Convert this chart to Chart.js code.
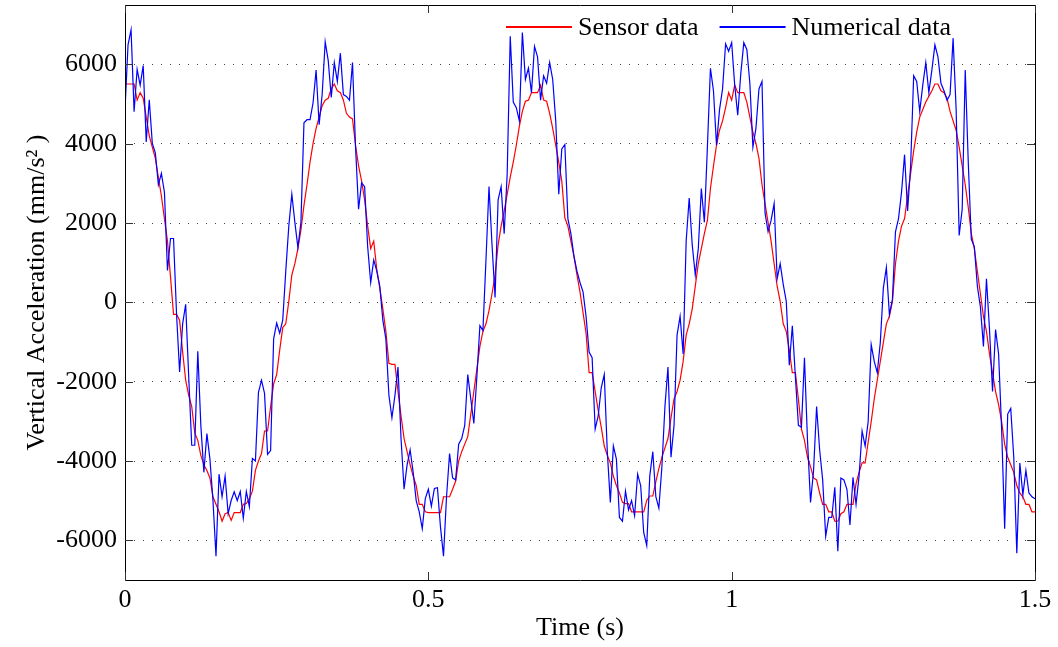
<!DOCTYPE html>
<html>
<head>
<meta charset="utf-8">
<title>Vertical Acceleration</title>
<script src="https://cdn.jsdelivr.net/npm/chart.js@4.4.1/dist/chart.umd.min.js"></script>
<style>
    html, body { margin: 0; padding: 0; background: #fff; }
    #wrap { width: 1058px; height: 647px; }
</style>
</head>
<body>
<div id="wrap"><canvas id="myChart" width="1058" height="647"></canvas></div>
<script>
// sample spacing of both records (s)
var sampleStep = 0.005;

// red curve - sensor record (mm/s^2)
var sensorData = [
    5508, 5508, 5508, 5508, 5100, 5290, 5148, 4674, 4200, 3915, 3631, 3157, 2683, 2114, 1545, 645,
    -303, -303, -446, -1251, -1962, -2342, -2626, -3290, -3479, -3858, -4096, -4237, -4427, -4901, -5091, -5280,
    -5518, -5328, -5299, -5498, -5299, -5299, -5299, -5091, -5072, -4949, -4759, -4237, -4000, -3811, -3242, -3242,
    -2626, -2057, -1820, -1204,
    -635, -540, 28, 692, 976, 1356, 1830, 2446, 2967, 3536, 4010, 4389, 4674, 4958, 5100, 5148,
    5385, 5508, 5337, 5290, 5100, 4768, 4674, 4626, 3963, 3441, 3062, 2588, 1924, 1356, 1545, 834,
    360, -161, -730, -1536, -1564, -1564, -2247, -2863, -3432, -3764, -4096, -4380, -4617,
    -5091, -5091, -5280, -5299, -5299, -5299, -5299, -5299, -4901, -4901, -4901, -4712, -4503, -4000, -3764, -3574,
    -3384, -2816, -2247, -1678, -1109, -730, -540, -209, 218, 692, 1450, 1924, 2304, 2730, 3157, 3536,
    3963, 4437, 4816, 5072, 5100, 5290, 5290, 5290, 5479, 5100, 5072, 4768, 4389, 3963, 3536, 3062,
    2133, 1924, 1545, 1166, 692,
    265, -256, -777, -1773, -1773, -2247, -2721, -3147, -3621, -3858, -4048, -4380, -4617, -4806, -5043, -5072,
    -5072, -5280, -5280, -5280, -5280, -5280, -4996, -4882, -4882, -4522, -4190, -3906, -3669, -3432, -2910, -2436,
    -2247, -1962, -1488, -825, -540, -161, 408, 976, 1356, 1735, 2067, 2872, 3441, 3963, 4342, 4579,
    4911, 5290, 5100, 5479, 5290, 5290, 5290, 5053, 4674, 4295, 4010, 3631, 2967, 2493, 2019, 1545,
    976, 408, 28, -540, -730, -1204, -1773, -1773, -2436, -3195, -3479, -3906, -4143, -4427, -4475, -4806,
    -5091, -5091, -5280, -5280, -5518, -5518, -5328, -5280, -5091, -5091, -5091, -4570, -4285, -4048, -4048, -3526,
    -3005, -2436,
    -1962, -1488, -1014, -540, -351, 28, 976, 1545, 1924, 2114, 2683, 3252, 3820, 4295, 4674, 4863,
    5053, 5195, 5337, 5508, 5508, 5337, 5290, 5148, 4816, 4579, 4342, 3915, 3441, 2967, 2398, 1735,
    1356, 787, 218, -351, -730, -1299, -1773, -2247, -2579, -3005, -3574, -3906, -4096, -4285, -4617, -4806,
    -4901, -5091, -5091, -5280, -5280
];

// blue curve - numerical model (mm/s^2)
var numericalData = [
    4863, 6494, 6873, 4806, 5878, 5479, 5972, 4048, 5110, 4010, 3773, 2967, 3252, 2778, 806, 1612,
    1612, -303, -1754, -540, -47, -1868, -3602, -3602, -1232, -3100, -4285, -3309, -3953, -4996, -6399, -4332,
    -4901, -4380, -5328, -4996, -4778, -4996, -4768, -5442, -4768, -5148, -3934, -4000, -2266, -1962, -2294, -3830,
    -3735, -920, -521, -777,
    -446, 787, 1924, 2730, 2019, 1384, 2019, 4531, 4607, 4607, 5034, 5859, 4484, 5242, 6570, 6096,
    5167, 6048, 5574, 6285, 5242, 5195, 5100, 6048, 3915, 2351, 3015, 2920, 1403, 502, 1071, 787,
    408, -446, -920, -2342, -2910, -2342, -1631, -3432, -4712, -4096, -3716, -4285, -4996,
    -5280, -5707, -4949, -4712, -5138, -4693, -4674, -5660, -6399, -4901, -3811, -4427, -4475, -3574, -3432, -3100,
    -1820, -2436, -3053, -1868, -588, -711, 1071, 2920, 1450, 123, 2588, 2920, 1735, 3252, 6712, 5053,
    4911, 4579, 6806, 5622, 5906, 5290, 6456, 6190, 5100, 5716, 5527, 6048, 5622, 4579, 2730, 3868,
    3982, 2114,
    1735, 1166, 787, 502, 265, -351, -1251, -1394, -3195, -2863, -2152, -1820, -3764, -5043, -3621, -3953,
    -5423, -5518, -4759, -5233, -4996, -5375, -4332, -4617, -5802, -6134, -4380, -3764, -4901, -5186, -4143, -2626,
    -1631, -3906, -3100, -825, -351, -1299, 1545, 2635, 1450, 692, 1356, 2872, 2019, 3915, 5906, 5337,
    3963, 4863, 5384, 6522, 6333,
    6551, 5479, 4721, 5764, 6551, 6380, 5527, 3915, 4389, 5384, 5574, 2256, 1782, 2067, 2493, 597,
    976, 455, 28, -1583, -588, -1868, -3100, -3147, -1394, -3479, -5043, -4237, -2626, -3716, -4475, -5897,
    -5423, -5423, -4664, -6276, -4427, -4475, -4712, -5612, -4408, -5091, -4380, -3242,
    -3621, -3005, -1062, -1488, -1773, -1014, 360, 882, -303, 76, 1782, 2114, 2778, 3726, 2304, 3441,
    5716, 5574, 4816, 5479, 6048, 5290, 5859, 6494, 6190, 5527, 5337, 5100, 5242, 6664, 4863, 1687,
    2351, 5859, 3536, 1593, 1403, 408, -114, -1109, 597, -683, -2247, -683, -1299, -3195, -5707, -2815,
    -2673, -3906, -6323, -4048, -4854, -4237, -4806, -4901, -4950
];

var seriesNames = ['Sensor data', 'Numerical data'];
var xTicks = [0, 0.5, 1, 1.5];
var yTicks = [-6000, -4000, -2000, 0, 2000, 4000, 6000];

var fontName = "'Liberation Serif', 'Times New Roman', serif";
var fontSize = 26;

function toPoints(values) {
    return values.map(function (v, i) {
        return {x: +(i * sampleStep).toFixed(3), y: v};
    });
}

// box, inward tick marks and the legend (matlab look)
var framePlugin = {
    id: 'frame',
    afterDatasetsDraw: function (chart) {
        var ctx = chart.ctx;
        var a = chart.chartArea;
        var xs = chart.scales.x;
        var ys = chart.scales.y;
        var tick = 8;

        ctx.save();
        ctx.strokeStyle = '#000';
        ctx.lineWidth = 1;
        ctx.beginPath();
        ctx.rect(Math.round(a.left) + 0.5, Math.round(a.top) + 0.5,
                Math.round(a.right - a.left), Math.round(a.bottom - a.top));
        ctx.stroke();

        ctx.strokeStyle = '#333';
        ctx.beginPath();
        yTicks.forEach(function (v) {
            var y = Math.round(ys.getPixelForValue(v)) + 0.5;
            ctx.moveTo(a.left, y);
            ctx.lineTo(a.left + tick, y);
            ctx.moveTo(a.right, y);
            ctx.lineTo(a.right - tick, y);
        });
        xTicks.forEach(function (v) {
            var x = Math.round(xs.getPixelForValue(v)) + 0.5;
            ctx.moveTo(x, a.bottom);
            ctx.lineTo(x, a.bottom - tick);
            ctx.moveTo(x, a.top);
            ctx.lineTo(x, a.top + tick);
        });
        ctx.stroke();

        // legend, top right inside the axes, no box
        var lineLen = 66;
        var x = a.right - 529;
        var y = a.top + 22;
        ctx.font = fontSize + 'px ' + fontName;
        ctx.textBaseline = 'middle';
        ctx.fillStyle = '#000';
        chart.data.datasets.slice().sort(function (p, q) {
            return p.legendIndex - q.legendIndex;
        }).forEach(function (ds) {
            ctx.strokeStyle = ds.borderColor;
            ctx.lineWidth = 2;
            ctx.beginPath();
            ctx.moveTo(x, y);
            ctx.lineTo(x + lineLen, y);
            ctx.stroke();
            ctx.fillText(ds.label, x + lineLen + 6, y + 1);
            x += lineLen + 6 + ctx.measureText(ds.label).width + 21;
        });
        ctx.restore();
    }
};

var ctx = document.getElementById('myChart');
var myChart = new Chart(ctx, {
    type: 'line',
    data: {
        datasets: [{
                label: seriesNames[1],
                legendIndex: 1,
                data: toPoints(numericalData),
                borderColor: '#0000ff',
                borderWidth: 1.2,
                pointRadius: 0,
                tension: 0,
                order: 1
            }, {
                label: seriesNames[0],
                legendIndex: 0,
                data: toPoints(sensorData),
                borderColor: '#ff0000',
                borderWidth: 1.2,
                pointRadius: 0,
                tension: 0,
                order: 2
            }]
    },
    options: {
        responsive: false,
        animation: false,
        events: [],
        layout: {
            padding: {top: 5, right: 23, left: 0, bottom: 0}
        },
        plugins: {
            legend: {display: false},
            tooltip: {enabled: false}
        },
        scales: {
            x: {
                type: 'linear',
                min: 0,
                max: 1.5,
                afterBuildTicks: function (scale) {
                    scale.ticks = xTicks.map(function (v) { return {value: v}; });
                },
                afterFit: function (scale) {
                    scale.height = 67;
                    scale.paddingLeft = 0;
                    scale.paddingRight = 0;
                },
                ticks: {
                    color: '#000',
                    padding: 5,
                    maxRotation: 0,
                    font: {family: fontName, size: fontSize},
                    callback: function (v) { return String(v); }
                },
                grid: {display: false, drawTicks: false},
                border: {display: false},
                title: {
                    display: true,
                    text: 'Time (s)',
                    color: '#000',
                    font: {family: fontName, size: fontSize},
                    padding: {top: 0, bottom: 3}
                }
            },
            y: {
                min: -7000,
                max: 7500,
                afterBuildTicks: function (scale) {
                    scale.ticks = yTicks.map(function (v) { return {value: v}; });
                },
                afterFit: function (scale) {
                    scale.width = 125;
                    scale.paddingTop = 0;
                    scale.paddingBottom = 0;
                },
                ticks: {
                    color: '#000',
                    padding: 8,
                    font: {family: fontName, size: fontSize},
                    callback: function (v) { return String(v); }
                },
                grid: {color: '#444', lineWidth: 1, drawTicks: false},
                border: {display: false, dash: [1, 8]},
                title: {
                    display: true,
                    text: 'Vertical Acceleration (mm/s\u00b2 )',
                    color: '#000',
                    font: {family: fontName, size: fontSize},
                    padding: {top: 22, bottom: 0}
                }
            }
        }
    },
    plugins: [framePlugin]
});
</script>
</body>
</html>
